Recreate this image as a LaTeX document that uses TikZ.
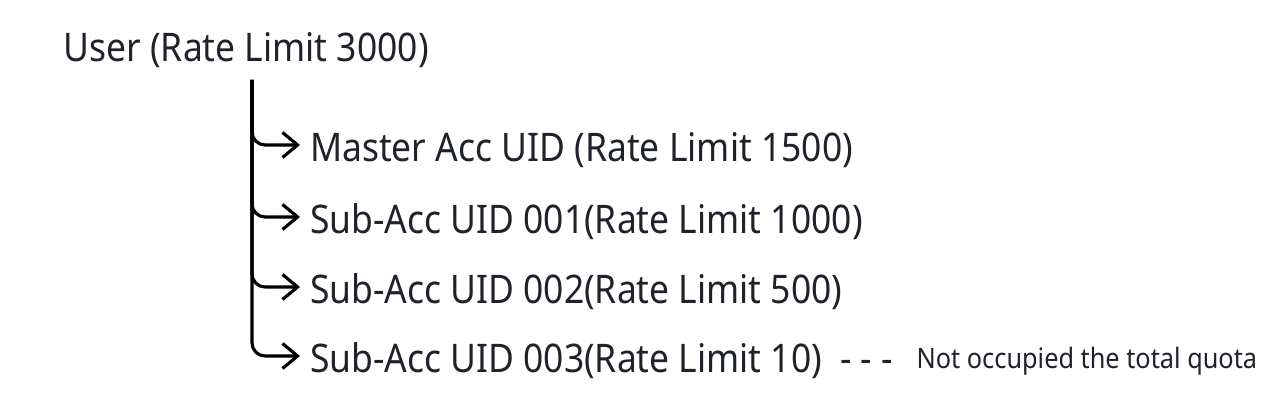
\documentclass[tikz,border=0pt]{standalone}
\usepackage{fontspec}
\setmainfont[FakeStretch=0.9]{Noto Sans}
\usepackage{xcolor}
\usetikzlibrary{
	positioning,    % posizionamento dei nodi
	arrows.meta     % punte di freccia
}
\definecolor{testo}{HTML}{1F2329}

\begin{document}
\begin{tikzpicture}[
		x=0.01cm, y=-0.01cm,
		line width=0.9pt,
		ramo/.style={rounded corners=0.13cm, -{Straight Barb[length=0.15cm, width=0.25cm]}},
		voce/.style={anchor=base west, inner xsep=0.1cm, inner ysep=0pt, outer sep=0pt,
			text height=0.34cm, text depth=0pt, text=testo, font=\fontsize{11.2}{13}\selectfont},
		nota_text/.style={anchor=base west, inner sep=0pt, text=testo, font=\fontsize{8}{10}\selectfont}
	]
	
	% --- Area del disegno ---
	\useasboundingbox (0,0) rectangle (1280,401);
	
	% --- Utente ---
	\node[anchor=base west, inner sep=0pt, text=testo, font=\fontsize{11.2}{13}\selectfont] (utente) at (62,62) {User (Rate Limit 3000)};
	\coordinate (radice) at (252,80);
	
	% --- Account ---
	\node[voce] (master) at (300,162) {Master Acc UID (Rate Limit 1500)};
	\node[voce] (sub1) at (300,234) {Sub-Acc UID 001(Rate Limit 1000)};
	\node[voce] (sub2) at (300,304) {Sub-Acc UID 002(Rate Limit 500)};
	\node[voce] (sub3) at (300,373) {Sub-Acc UID 003(Rate Limit 10)};
	
	% --- Nota ---
	\node[voce, inner xsep=0pt] (trattini) at (840,373) {- - -};
	\node[nota_text] (nota) at (915,369) {Not occupied the total quota};
	
	% --- Rami ---
	\foreach \acc in {master, sub1, sub2, sub3}
		\draw[ramo] (radice) |- (\acc.west);
\end{tikzpicture}
\end{document}
